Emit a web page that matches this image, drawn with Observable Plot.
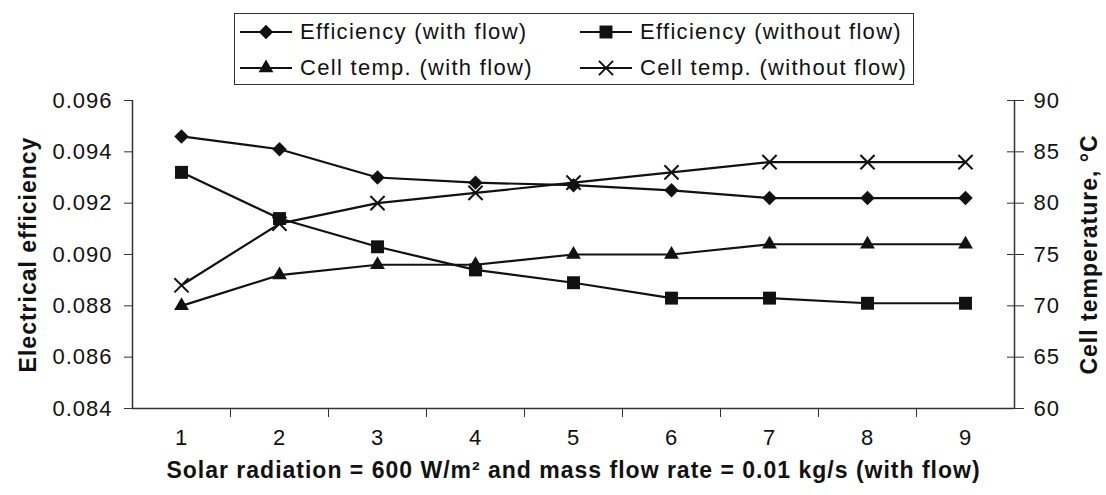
<!DOCTYPE html>
<html><head><meta charset="utf-8">
<script src="https://cdn.jsdelivr.net/npm/d3@7"></script>
<script src="https://cdn.jsdelivr.net/npm/@observablehq/plot@0.6"></script>
<style>
body{margin:0;background:#fff;font-family:"Liberation Sans",Arial,sans-serif;}
#wrap{position:relative;width:1106px;height:495px;}
#legend{position:relative;height:86px;}
.box{position:absolute;left:234px;top:13px;width:680px;height:72px;border:1.5px solid #333;box-sizing:border-box;}
.item{position:absolute;height:26px;display:flex;align-items:center;font-size:22px;letter-spacing:1.3px;color:#111;white-space:nowrap}
.item svg{margin-right:6px}
#chart svg{overflow:visible}
</style></head><body>
<div id="wrap"><div id="legend"><div class="box"></div></div><div id="chart"></div></div>
<script>
// ---- data ----
const categories = [1, 2, 3, 4, 5, 6, 7, 8, 9];
const effWithFlow = [0.0946, 0.0941, 0.0930, 0.0928, 0.0927, 0.0925, 0.0922, 0.0922, 0.0922];
const effWithoutFlow = [0.0932, 0.0914, 0.0903, 0.0894, 0.0889, 0.0883, 0.0883, 0.0881, 0.0881];
const tempWithFlow = [70, 73, 74, 74, 75, 75, 76, 76, 76];
const tempWithoutFlow = [72, 78, 80, 81, 82, 83, 84, 84, 84];
const leftTicks = [0.084, 0.086, 0.088, 0.090, 0.092, 0.094, 0.096];
const rightTicks = [60, 65, 70, 75, 80, 85, 90];
const seriesNames = ["Efficiency (with flow)", "Efficiency (without flow)", "Cell temp. (with flow)", "Cell temp. (without flow)"];

// map right axis (temperature) onto left axis (efficiency)
const effMin = 0.084, effMax = 0.096, tMin = 60, tMax = 90;
const tToY = t => effMin + (t - tMin) * (effMax - effMin) / (tMax - tMin);
const yToT = y => Math.round(tMin + (y - effMin) * (tMax - tMin) / (effMax - effMin));

const styles = [
  {symbol: "diamond2", d3sym: d3.symbolDiamond2, r: 6.5, filled: true},
  {symbol: "square", d3sym: d3.symbolSquare, r: 7.3, filled: true},
  {symbol: "triangle", d3sym: d3.symbolTriangle, r: 5.5, filled: true},
  {symbol: "times", d3sym: d3.symbolTimes, r: 6.5, filled: false}
];
const seriesValues = [
  effWithFlow,
  effWithoutFlow,
  tempWithFlow.map(tToY),
  tempWithoutFlow.map(tToY)
];
const rows = seriesValues.map((vals, i) => categories.map((c, j) => ({x: c, y: vals[j], s: i})));
const boundaries = categories.slice(0, -1).map(c => c + 0.5);

// ---- legend ----
const legend = document.getElementById("legend");
const legPos = [[240, 19], [580, 19], [240, 55], [580, 55]];
seriesNames.forEach((name, i) => {
  const st = styles[i];
  const div = document.createElement("div");
  div.className = "item";
  div.style.left = legPos[i][0] + "px";
  div.style.top = legPos[i][1] + "px";
  const size = Math.PI * st.r * st.r;
  const path = d3.symbol(st.d3sym, size)();
  div.innerHTML = `<svg width="54" height="26"><line x1="0" x2="52" y1="13" y2="13" stroke="#111" stroke-width="2.2"/>` +
    `<path d="${path}" transform="translate(26,13)" fill="${st.filled ? "#111" : "none"}" stroke="${st.filled ? "none" : "#111"}" stroke-width="2"/></svg><span>${name}</span>`;
  legend.appendChild(div);
});

// ---- chart ----
const marks = [
  Plot.ruleX([0.5, 9.5], {stroke: "#333", strokeWidth: 1.5}),
  Plot.ruleY([effMin], {stroke: "#333", strokeWidth: 1.5}),
  Plot.axisY(leftTicks, {anchor: "left", tickSize: 8, tickPadding: 12, tickFormat: d3.format(".3f"), label: null, stroke: "#333"}),
  Plot.axisY(rightTicks.map(tToY), {anchor: "right", tickSize: 17, insetRight: 8, tickPadding: 10, tickFormat: yToT, label: null, stroke: "#333"}),
  Plot.axisX(categories, {anchor: "bottom", tickSize: 0, tickPadding: 21, label: null}),
  Plot.axisX(boundaries, {anchor: "bottom", tickSize: 9, tickFormat: () => "", label: null, stroke: "#333"}),
  Plot.text(["Electrical efficiency"], {frameAnchor: "left", rotate: -90, dx: -104, textAnchor: "middle", fontWeight: "bold", fontSize: 23, letterSpacing: 1.2, fill: "#111"}),
  Plot.text(["Cell temperature, °C"], {frameAnchor: "right", rotate: -90, dx: 75, textAnchor: "middle", fontWeight: "bold", fontSize: 23, letterSpacing: 1.2, fill: "#111"}),
  Plot.text(["Solar radiation = 600 W/m² and mass flow rate = 0.01 kg/s (with flow)"], {frameAnchor: "bottom", dy: 69, textAnchor: "middle", fontWeight: "bold", fontSize: 23, letterSpacing: 1.3, fill: "#111"})
];
rows.forEach((data, i) => {
  const st = styles[i];
  marks.push(Plot.line(data, {x: "x", y: "y", stroke: "#111", strokeWidth: 2.2}));
  marks.push(Plot.dot(data, st.filled
    ? {x: "x", y: "y", symbol: st.symbol, r: st.r, fill: "#111", stroke: "none"}
    : {x: "x", y: "y", symbol: st.symbol, r: st.r, fill: "none", stroke: "#111", strokeWidth: 2}));
});

const chart = Plot.plot({
  width: 1106,
  height: 409,
  marginTop: 14,
  marginBottom: 87,
  marginLeft: 132,
  marginRight: 92,
  x: {type: "linear", domain: [0.5, 9.5], axis: null},
  y: {domain: [effMin, effMax], axis: null},
  style: {fontFamily: "'Liberation Sans', Arial, sans-serif", fontSize: "22px", letterSpacing: "1px", color: "#111", background: "#fff", overflow: "visible"},
  marks
});
document.getElementById("chart").appendChild(chart);
</script>
</body></html>
